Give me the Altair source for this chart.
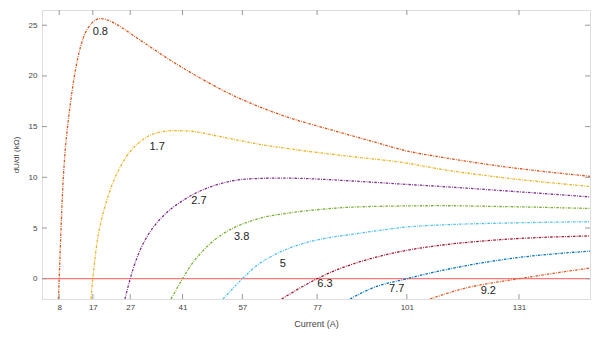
import altair as alt
import pandas as pd

# ---- data ----
series_names = ["0.8", "1.7", "2.7", "3.8", "5", "6.3", "7.7", "9.2"]
series_colors = ["#D95319", "#EDB120", "#7E2F8E", "#77AC30", "#4DBEEE", "#A2142F", "#0072BD", "#DE5A22"]

i_08 = [7.8, 8.0, 8.5, 9.0, 9.6, 10.3, 11.0, 11.9, 13.0, 14.5, 16.5, 19.0, 21.0, 23.0, 25.0, 27.0, 30.0, 34.0, 38.6, 45.7, 51.9, 60.9, 69.8, 78.6, 91.2, 101, 110, 126, 150]
v_08 = [-2, 0, 5, 9.3, 12.6, 15.2, 17.3, 19.6, 21.8, 23.8, 25.1, 25.65, 25.5, 25.15, 24.7, 24.2, 23.45, 22.45, 21.35, 19.8, 18.55, 17.05, 15.85, 14.9, 13.6, 12.6, 12.0, 11.1, 10.1]

i_17 = [16.5, 17.0, 18.1, 19.3, 20.8, 22.5, 24.3, 27, 30, 33, 38.5, 43, 51.9, 60.9, 69.8, 85.8, 101, 110, 126, 150]
v_17 = [-2, 0, 3.5, 5.8, 7.8, 9.6, 11.0, 12.55, 13.6, 14.25, 14.6, 14.55, 13.95, 13.3, 12.8, 12.06, 11.4, 10.8, 10.0, 9.1]

i_27 = [25.6, 27, 28.5, 30, 32, 34.1, 37, 40.4, 45.7, 51.9, 56, 60.9, 66, 72, 78.6, 85.8, 101, 110, 126, 150]
v_27 = [-2, 0, 1.75, 3.1, 4.45, 5.5, 6.6, 7.55, 8.65, 9.45, 9.75, 9.88, 9.92, 9.9, 9.8, 9.65, 9.3, 9.1, 8.7, 8.07]

i_38 = [37.9, 41, 43, 45.7, 47.5, 51.9, 56.4, 60.9, 69.8, 78.7, 85.8, 101, 110, 126, 150]
v_38 = [-2, 0, 1.2, 2.45, 3.15, 4.45, 5.3, 5.88, 6.5, 6.86, 7.05, 7.18, 7.2, 7.12, 6.93]

i_50 = [51.8, 57, 61, 65.3, 69.8, 78.7, 85.8, 92, 101, 110, 126, 150]
v_50 = [-2, 0, 1.35, 2.3, 3.05, 3.95, 4.35, 4.68, 5.1, 5.3, 5.48, 5.62]

i_63 = [67.5, 77, 83.1, 85.8, 92, 101, 110, 126, 150]
v_63 = [-2, 0, 1.0, 1.35, 2.05, 2.8, 3.3, 3.85, 4.22]

i_77 = [85.8, 91.2, 101, 108, 117, 130, 150]
v_77 = [-2, -1.0, 0, 0.62, 1.3, 2.05, 2.72]

i_92 = [107.2, 117, 124, 131, 140, 150]
v_92 = [-2, -0.9, -0.4, 0, 0.52, 1.05]

label_i = [19, 34.2, 45.4, 56.8, 67.8, 79.1, 98.3, 122.8]
label_v = [24.3, 13.0, 7.7, 4.15, 1.47, -0.5, -1.0, -1.18]

x_ticks = [8, 17, 27, 41, 57, 77, 101, 131]
y_ticks = [0, 5, 10, 15, 20, 25]
zero_line_i = [3.4, 150]
zero_line_v = [0, 0]

# ---- tables ----
all_i = [i_08, i_17, i_27, i_38, i_50, i_63, i_77, i_92]
all_v = [v_08, v_17, v_27, v_38, v_50, v_63, v_77, v_92]
rows = []
for name, xs, ys in zip(series_names, all_i, all_v):
    for k, (a, b) in enumerate(zip(xs, ys)):
        rows.append({"series": name, "I": a, "V": b, "order": k})
df = pd.DataFrame(rows)
lab = pd.DataFrame({"series": series_names, "I": label_i, "V": label_v})
zero = pd.DataFrame({"I": zero_line_i, "V": zero_line_v})
xt = pd.DataFrame({"t": x_ticks})
yt = pd.DataFrame({"t": y_ticks})

W, H = 548, 289
xscale = alt.Scale(domain=[3.4, 150], nice=False, zero=False)
yscale = alt.Scale(domain=[-2, 26.5], nice=False, zero=False)

xaxis = alt.Axis(values=x_ticks, ticks=False, domain=False, grid=False,
                 labelFontSize=8, labelColor="#444", labelPadding=4,
                 title="Current (A)", titleFontSize=9, titleFontWeight="normal",
                 titleColor="#444", titlePadding=8, labelFont="Liberation Sans",
                 titleFont="Liberation Sans")
yaxis = alt.Axis(values=y_ticks, ticks=False, domain=False, grid=False,
                 labelFontSize=8, labelColor="#444", labelPadding=5,
                 title="dU/dI (kΩ)", titleFontSize=8, titleFontWeight="normal",
                 titleColor="#444", titlePadding=8, labelFont="Liberation Sans",
                 titleFont="Liberation Sans")

zero_layer = alt.Chart(zero).mark_line(color="#FF7A7A", strokeWidth=1.2, clip=True).encode(
    x=alt.X("I:Q", scale=xscale, axis=xaxis),
    y=alt.Y("V:Q", scale=yscale, axis=yaxis),
)

lines = alt.Chart(df).mark_line(strokeWidth=1.3, strokeDash=[2.5, 1.2, 0.8, 1.2],
                                interpolate="monotone", clip=True).encode(
    x=alt.X("I:Q", scale=xscale),
    y=alt.Y("V:Q", scale=yscale),
    color=alt.Color("series:N", scale=alt.Scale(domain=series_names, range=series_colors), legend=None),
    order="order:Q",
)

labels = alt.Chart(lab).mark_text(fontSize=11, color="#222", font="Liberation Sans").encode(
    x=alt.X("I:Q", scale=xscale),
    y=alt.Y("V:Q", scale=yscale),
    text="series:N",
)

tick_color = "#999"
bot = alt.Chart(xt).mark_rule(color=tick_color, strokeWidth=1).encode(
    x=alt.X("t:Q", scale=xscale), y=alt.value(H), y2=alt.value(H - 5))
top = alt.Chart(xt).mark_rule(color=tick_color, strokeWidth=1).encode(
    x=alt.X("t:Q", scale=xscale), y=alt.value(0), y2=alt.value(5))
left = alt.Chart(yt).mark_rule(color=tick_color, strokeWidth=1).encode(
    y=alt.Y("t:Q", scale=yscale), x=alt.value(0), x2=alt.value(5))
right = alt.Chart(yt).mark_rule(color=tick_color, strokeWidth=1).encode(
    y=alt.Y("t:Q", scale=yscale), x=alt.value(W), x2=alt.value(W - 5))

chart = alt.layer(zero_layer, lines, labels, bot, top, left, right).properties(
    width=W, height=H,
    autosize=alt.AutoSizeParams(type="none"),
    padding={"left": 34, "top": 2, "right": 2, "bottom": 30},
).configure_view(stroke="#A0A0A0", strokeWidth=1.5).configure(background="white")

chart.save("out.html", embed_options={"renderer": "svg", "actions": False})
